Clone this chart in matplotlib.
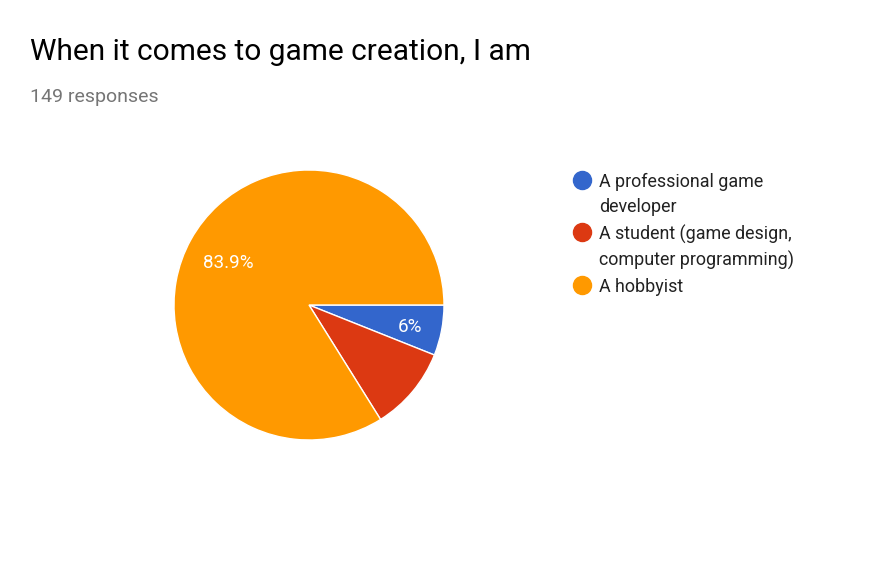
import matplotlib.pyplot as plt
from matplotlib.lines import Line2D
import numpy as np

plt.rcParams['font.family'] = ['Roboto', 'DejaVu Sans']

# survey answers (149 responses)
categories = ['A professional game developer',
              'A student (game design, computer programming)',
              'A hobbyist']
legend_lines = ['A professional game\ndeveloper',
                'A student (game design,\ncomputer programming)',
                'A hobbyist']
counts = [9, 15, 125]
shown_pct = ['6%', '', '83.9%']
label_dist = [0.76, 0.7, 0.68]
colors = ['#3366cc', '#dc3912', '#ff9900']

W, H = 894, 561
fig = plt.figure(figsize=(W / 100, H / 100), dpi=100)
fig.patch.set_facecolor('white')

# pie centered at (309, 305) px, radius 135 px
cx, cy, r = 309, 305, 135
ax = fig.add_axes([(cx - r) / W, (H - cy - r) / H, 2 * r / W, 2 * r / H])
wedges, _ = ax.pie(counts, colors=colors, startangle=0, counterclock=False,
                   wedgeprops=dict(edgecolor='white', linewidth=1))
ax.set_xlim(-1, 1)
ax.set_ylim(-1, 1)
ax.axis('off')

total = sum(counts)
start = 0.0
for c, lab, d in zip(counts, shown_pct, label_dist):
    ang = start - 360 * c / total / 2
    start -= 360 * c / total
    if lab:
        t = np.deg2rad(ang)
        ax.text(d * np.cos(t), d * np.sin(t) - 0.02, lab, color='white',
                fontsize=13.6, ha='center', va='center')

fig.text(30 / W, 1 - 52 / H, 'When it comes to game creation, I am',
         fontsize=21.5, color='#000000', va='center', ha='left')
fig.text(30 / W, 1 - 97 / H, '149 responses', fontsize=14,
         color='#757575', va='center', ha='left')

# legend
ys = [180, 232, 285]
for y, lab, col in zip(ys, legend_lines, colors):
    fig.add_artist(Line2D([582 / W], [1 - y / H], marker='o', markersize=13,
                          color=col, linestyle='none', transform=fig.transFigure))
    fig.text(599 / W, 1 - (y - 7) / H, lab, fontsize=12.9, color='#222222',
             va='top', ha='left', linespacing=1.48)

fig.savefig('out.png', dpi=100, facecolor='white')
